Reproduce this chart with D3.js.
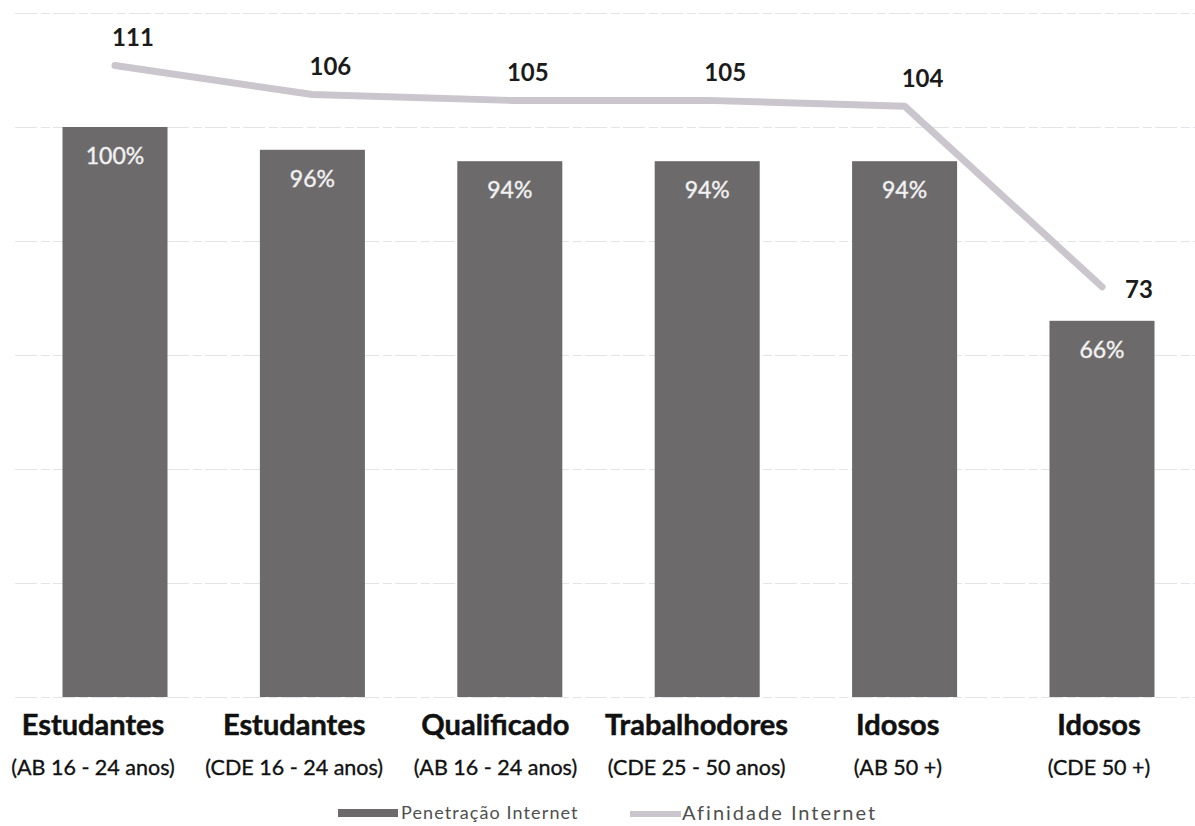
<!DOCTYPE html>
<html lang="pt">
<head>
<meta charset="utf-8">
<script src="https://cdn.jsdelivr.net/npm/d3@7"></script>
<style>
  html, body { margin: 0; padding: 0; background: #ffffff; }
  svg { display: block; }
</style>
</head>
<body>
<svg id="chart" width="1195" height="826"></svg>
<script>
// Segments and their two measures
const segmentos = ["Estudantes", "Estudantes", "Qualificado", "Trabalhodores", "Idosos", "Idosos"];
const subgrupos = ["(AB 16 - 24 anos)", "(CDE 16 - 24 anos)", "(AB 16 - 24 anos)", "(CDE 25 - 50 anos)", "(AB 50 +)", "(CDE 50 +)"];
const penetracao = [100, 96, 94, 94, 94, 66];    // % Penetração Internet (bars)
const afinidade = [111, 106, 105, 105, 104, 73];  // Afinidade Internet index (line)
const gradeTicks = [0, 20, 40, 60, 80, 100, 120];
const legenda = ["Penetração Internet", "Afinidade Internet"];

const W = 1195, H = 826;
const svg = d3.select("#chart");

const barColor = "#6d6a6c";
const lineColor = "#cbc6cd";
const fonte = "Lato, 'Open Sans', sans-serif";
const idx = d3.range(segmentos.length);

// Category band scale for the bars
const x = d3.scaleBand()
  .domain(idx)
  .range([16.3, 1200.7])
  .paddingInner(0.468)
  .paddingOuter(0.234);

// Category label positions
const xLab = d3.scalePoint().domain(idx).range([93, 1099]);

// Primary axis (percent) and secondary axis (index)
const y = d3.scaleLinear().domain([0, 120]).range([697, 13]);
const y2 = d3.scaleLinear().domain([0, 120]).range([712, 13]);

// Horizontal gridlines
const grid = svg.append("g")
  .attr("transform", "translate(15,0)")
  .call(d3.axisLeft(y).tickValues(gradeTicks).tickSize(-(W - 15)).tickFormat(""));
grid.select(".domain").remove();
grid.selectAll(".tick line")
  .attr("stroke", "#e4e3e8")
  .attr("stroke-width", 1.2)
  .attr("stroke-dasharray", "22 4 9 3");

// Bars
svg.append("g").selectAll("rect")
  .data(idx)
  .join("rect")
  .attr("x", i => x(i))
  .attr("y", i => y(penetracao[i]))
  .attr("width", x.bandwidth())
  .attr("height", i => y(0) - y(penetracao[i]))
  .attr("fill", barColor);

// Bar value labels
svg.append("g").selectAll("text")
  .data(idx)
  .join("text")
  .attr("x", i => x(i) + x.bandwidth() / 2)
  .attr("y", i => y(penetracao[i]) + 29)
  .attr("dy", "0.35em")
  .attr("text-anchor", "middle")
  .attr("font-family", fonte)
  .attr("font-size", 23)
  .attr("fill", "#f1f1f1")
  .attr("stroke", "#f1f1f1")
  .attr("stroke-width", 0.4)
  .text(i => penetracao[i] + "%");

// Affinity line
const linha = d3.line()
  .x(i => x(i) + x.bandwidth() / 2)
  .y(i => y2(afinidade[i]));

svg.append("path")
  .datum(idx)
  .attr("d", linha)
  .attr("fill", "none")
  .attr("stroke", lineColor)
  .attr("stroke-width", 7)
  .attr("stroke-linejoin", "round")
  .attr("stroke-linecap", "round");

// Line value labels (last one sits to the right of its point)
const ultimo = idx.length - 1;
svg.append("g").selectAll("text")
  .data(idx)
  .join("text")
  .attr("x", i => x(i) + x.bandwidth() / 2 + (i === ultimo ? 37 : 18))
  .attr("y", i => y2(afinidade[i]) + (i === ultimo ? 3 : -28))
  .attr("dy", "0.35em")
  .attr("text-anchor", "middle")
  .attr("font-family", fonte)
  .attr("font-weight", 700)
  .attr("font-size", 24)
  .attr("fill", "#1b1b1b")
  .text(i => afinidade[i]);

// Category labels (two lines)
const cat = svg.append("g").selectAll("g")
  .data(idx)
  .join("g")
  .attr("transform", i => `translate(${xLab(i)},0)`);

cat.append("text")
  .attr("y", 725)
  .attr("dy", "0.35em")
  .attr("text-anchor", "middle")
  .attr("font-family", fonte)
  .attr("font-weight", 700)
  .attr("font-size", 29)
  .attr("fill", "#111111")
  .attr("stroke", "#111111")
  .attr("stroke-width", 0.5)
  .text(i => segmentos[i]);

cat.append("text")
  .attr("y", 767)
  .attr("dy", "0.35em")
  .attr("text-anchor", "middle")
  .attr("font-family", fonte)
  .attr("font-size", 21.5)
  .attr("fill", "#111111")
  .attr("stroke", "#111111")
  .attr("stroke-width", 0.35)
  .text(i => subgrupos[i]);

// Legend
const leg = svg.append("g");
leg.append("rect")
  .attr("x", 338).attr("y", 809)
  .attr("width", 60).attr("height", 8)
  .attr("fill", barColor);
leg.append("text")
  .attr("x", 401).attr("y", 813)
  .attr("dy", "0.35em")
  .attr("font-family", fonte)
  .attr("font-size", 18)
  .attr("letter-spacing", 1.1)
  .attr("fill", "#4f4f4f")
  .text(legenda[0]);
leg.append("line")
  .attr("x1", 630).attr("x2", 681)
  .attr("y1", 814).attr("y2", 814)
  .attr("stroke", lineColor)
  .attr("stroke-width", 6);
leg.append("text")
  .attr("x", 682).attr("y", 813)
  .attr("dy", "0.35em")
  .attr("font-family", fonte)
  .attr("font-size", 20)
  .attr("letter-spacing", 2)
  .attr("fill", "#4f4f4f")
  .text(legenda[1]);
</script>
</body>
</html>
